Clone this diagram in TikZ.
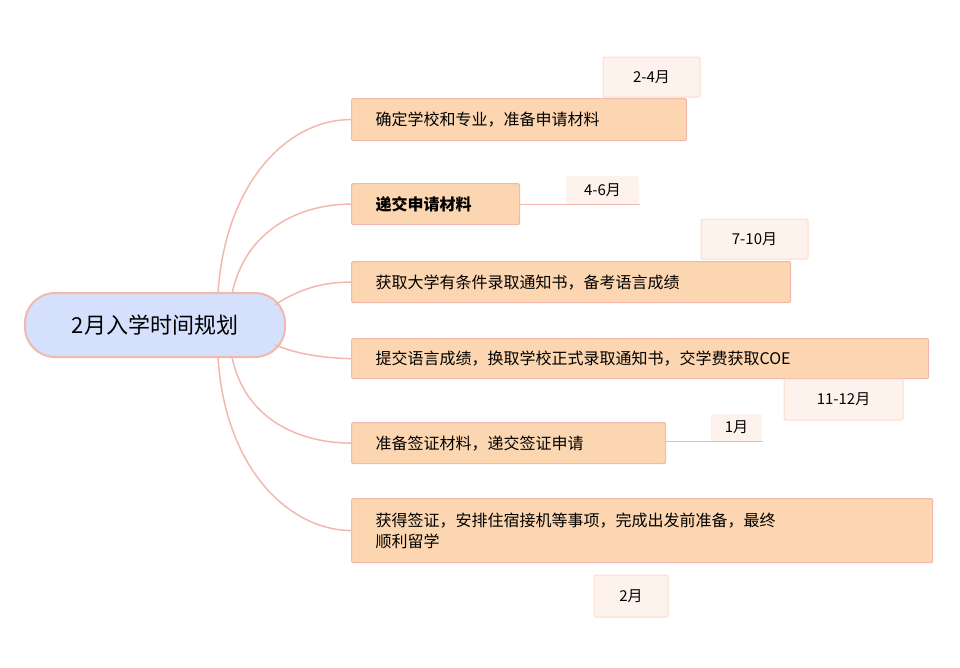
\documentclass[tikz,border=0pt]{standalone}
\usepackage{fontspec}
\setmainfont{Noto Sans CJK SC}
\definecolor{lnk}{HTML}{F2B8AE}
\definecolor{box}{HTML}{FCD6B0}
\definecolor{rootf}{HTML}{D5E1FC}
\definecolor{lab}{HTML}{FEF3EC}
\definecolor{labb}{HTML}{FBDCCF}
\begin{document}
\begin{tikzpicture}[x=1pt,y=-1pt,
 item/.style={draw=lnk,fill=box,line width=1.2pt,rounded corners=2pt,anchor=north west,inner sep=0pt,font=\fontsize{16}{21}\selectfont},
 tag/.style={draw=labb,fill=lab,line width=1pt,rounded corners=2pt,inner sep=0pt,font=\fontsize{15}{17}\selectfont},
 lk/.style={draw=lnk,line width=1.5pt}]
\useasboundingbox (0,0) rectangle (960,667);
\node[draw=lnk,fill=rootf,line width=2pt,rounded corners=30pt,minimum width=260pt,minimum height=64pt,font=\fontsize{22}{26}\selectfont] (r) at (155,325) {2月入学时间规划};
\node[item,minimum width=335pt,minimum height=42pt,text width=315pt,align=left] (n1) at (351,98) {\hspace*{14pt}确定学校和专业，准备申请材料};
\node[item,minimum width=168pt,minimum height=41pt,text width=148pt,align=left] (n2) at (351,183) {\hspace*{14pt}\bfseries 递交申请材料};
\node[item,minimum width=439pt,minimum height=41pt,text width=419pt,align=left] (n3) at (351,261) {\hspace*{14pt}获取大学有条件录取通知书，备考语言成绩};
\node[item,minimum width=577pt,minimum height=40pt,text width=557pt,align=left] (n4) at (351,338) {\hspace*{14pt}提交语言成绩，换取学校正式录取通知书，交学费获取COE};
\node[item,minimum width=314pt,minimum height=41pt,text width=294pt,align=left] (n5) at (351,422) {\hspace*{14pt}准备签证材料，递交签证申请};
\node[item,minimum width=581pt,minimum height=64pt,text width=561pt,align=left] (n6) at (351,498) {\hspace*{14pt}\parbox{550pt}{获得签证，安排住宿接机等事项，完成出发前准备，最终\\顺利留学}};
\node[tag,minimum width=97pt,minimum height=40pt] (t1) at (651.5,77) {2-4月};
\node[tag,draw=none,minimum width=73pt,minimum height=28pt] (t2) at (602.5,190) {4-6月};
\node[tag,minimum width=107pt,minimum height=40pt] (t3) at (754.5,239) {7-10月};
\node[tag,minimum width=119pt,minimum height=41pt] (t4) at (843.5,399.5) {11-12月};
\node[tag,draw=none,minimum width=51pt,minimum height=27pt] (t5) at (736.5,427.5) {1月};
\node[tag,minimum width=74pt,minimum height=42pt] (t6) at (631,596) {2月};
\draw[lk,line width=1pt] (n2.east |- t2.south) -- (t2.south east);
\draw[lk,line width=1pt] (n5.east |- t5.south) -- (t5.south east);
\draw[lk] (218,294) .. controls (225,180) and (290,119) .. (n1.west);
\draw[lk] (232,294) .. controls (245,230) and (300,204) .. (n2.west);
\draw[lk] (275,305) .. controls (300,288) and (325,282) .. (n3.west);
\draw[lk] (275,345) .. controls (300,355) and (325,358) .. (n4.west);
\draw[lk] (232,357) .. controls (245,420) and (300,443) .. (n5.west);
\draw[lk] (218,357) .. controls (225,470) and (290,530) .. (n6.west);
\end{tikzpicture}
\end{document}
